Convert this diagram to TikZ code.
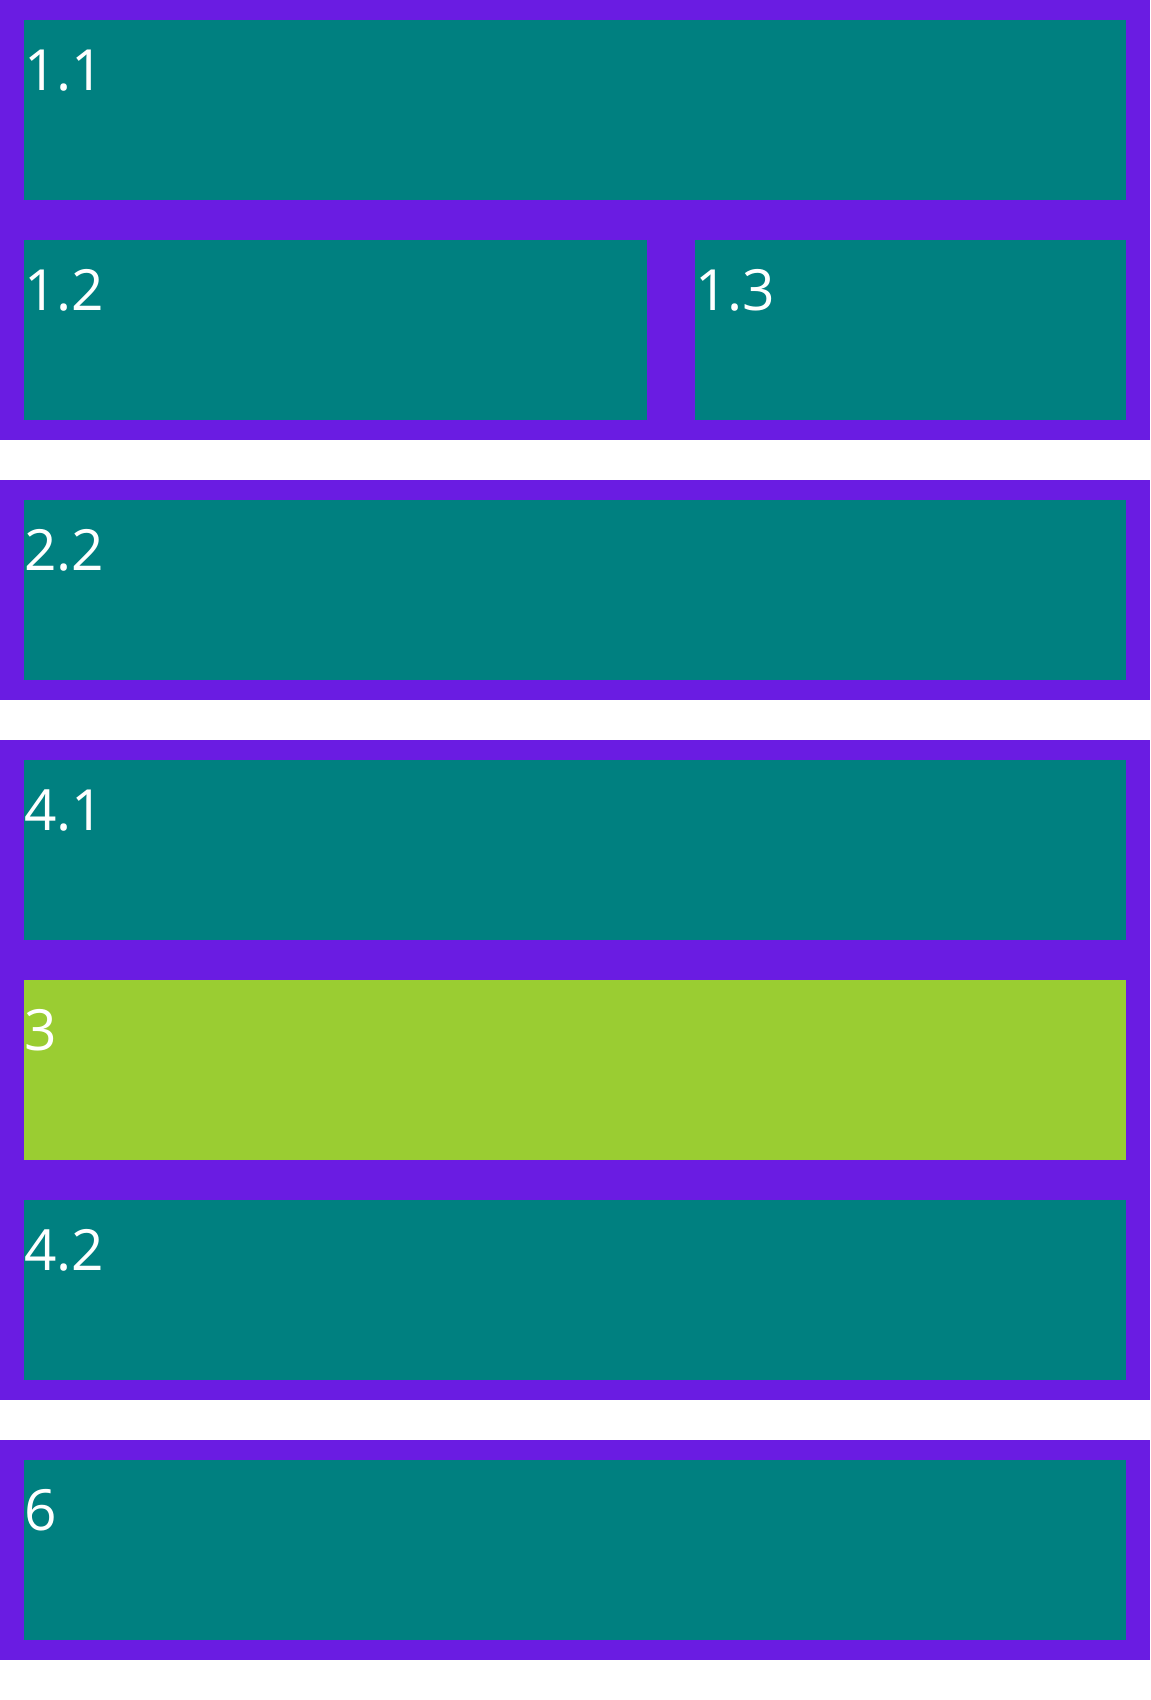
\documentclass[tikz,border=0pt]{standalone}
\usepackage{fontspec}
\setmainfont{Open Sans}
\definecolor{frame}{RGB}{106,28,226}
\definecolor{cell}{RGB}{0,128,128}
\definecolor{lime}{RGB}{154,205,50}
\begin{document}
\begin{tikzpicture}[x=1bp,y=-1bp,
  outerbox/.style={fill=frame,draw=none},
  cellbox/.style={fill=cell,draw=none},
  limebox/.style={fill=lime,draw=none},
  lbl/.style={anchor=base west,inner sep=0pt,text=white,font=\fontsize{57}{57}\selectfont}]
\useasboundingbox[fill=white] (0,0) rectangle (1150,1700);
% outer frames
\path[outerbox] (0,0) rectangle (1150,440);
\path[outerbox] (0,480) rectangle (1150,700);
\path[outerbox] (0,740) rectangle (1150,1400);
\path[outerbox] (0,1440) rectangle (1150,1660);
% cells
\path[cellbox] (24,20) rectangle (1126,200);
\path[cellbox] (24,240) rectangle (647,420);
\path[cellbox] (695,240) rectangle (1126,420);
\path[cellbox] (24,500) rectangle (1126,680);
\path[cellbox] (24,760) rectangle (1126,940);
\path[limebox] (24,980) rectangle (1126,1160);
\path[cellbox] (24,1200) rectangle (1126,1380);
\path[cellbox] (24,1460) rectangle (1126,1640);
% labels
\node[lbl] (l11) at (24,90) {1.1};
\node[lbl] (l12) at (24,310) {1.2};
\node[lbl] (l13) at (695,310) {1.3};
\node[lbl] (l22) at (24,570) {2.2};
\node[lbl] (l41) at (24,830) {4.1};
\node[lbl] (l3) at (24,1050) {3};
\node[lbl] (l42) at (24,1270) {4.2};
\node[lbl] (l6) at (24,1530) {6};
\end{tikzpicture}
\end{document}
